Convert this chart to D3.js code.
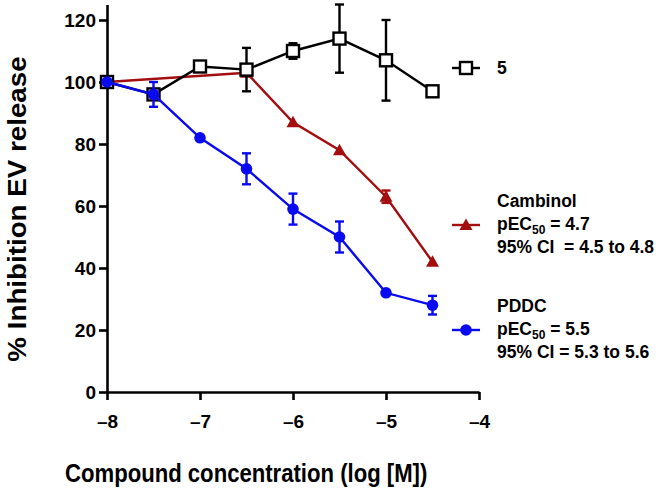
<!DOCTYPE html>
<html><head><meta charset="utf-8">
<script src="https://cdn.jsdelivr.net/npm/d3@7/dist/d3.min.js"></script>
<style>
html,body{margin:0;padding:0;background:#fff;}
svg{display:block;font-family:"Liberation Sans",Arial,Helvetica,sans-serif;font-weight:bold;}
</style></head>
<body>
<script>
const logConc = [-8, -7.5, -7, -6.5, -6, -5.5, -5, -4.5];
const cmp5Mean = [100, 96, 105, 104, 110, 114, 107, 97];
const cmp5Err  = [0, 0, 0, 7, 2.5, 11, 13, 0];
const cambX    = [-8, -6.5, -6, -5.5, -5, -4.5];
const cambMean = [100, 103, 87, 78, 63, 42];
const cambErr  = [0, 0, 0, 0, 2, 0];
const pddcMean = [100, 96, 82, 72, 59, 50, 32, 28];
const pddcErr  = [0, 4, 0, 5, 5, 5, 0, 3];
const xTicks = [-8, -7, -6, -5, -4];
const yTicks = [0, 20, 40, 60, 80, 100, 120];
const xTitle = "Compound concentration (log [M])";
const yTitle = "% Inhibition EV release";

const W = 661, H = 492;
const svg = d3.select("body").append("svg").attr("width", W).attr("height", H);
const x = d3.scaleLinear().domain([-8, -4]).range([107, 479]);
const y = d3.scaleLinear().domain([0, 125]).range([392, 4.5]);

const cBlack = "#000", cRed = "#a30d0d", cBlue = "#0a0af0";

// axes
const xAxis = svg.append("g").attr("transform", `translate(0,${y(0)})`)
  .call(d3.axisBottom(x).tickValues(xTicks).tickSize(8).tickSizeOuter(0)
    .tickFormat(d => String(d).replace("-", "\u2013")));
const yAxis = svg.append("g").attr("transform", `translate(${x(-8)},0)`)
  .call(d3.axisLeft(y).tickValues(yTicks).tickSize(8).tickSizeOuter(0));
[xAxis, yAxis].forEach(g => {
  g.select(".domain").attr("stroke", "#000").attr("stroke-width", 2.6);
  g.selectAll(".tick line").attr("stroke", "#000").attr("stroke-width", 2.6);
  g.selectAll(".tick text").attr("fill", "#000").attr("font-size", 19)
    .attr("font-family", "Liberation Sans, Arial, sans-serif").attr("font-weight", "bold");
});
xAxis.selectAll(".tick text").attr("dy", null).attr("y", 36);
yAxis.selectAll(".tick text").attr("x", -11).attr("dy", "0.36em");

// titles
svg.append("text").attr("transform", "translate(65,482) scale(0.885,1)").attr("font-size", 25)
  .attr("fill", "#000").text(xTitle);
svg.append("text").attr("transform", `translate(26,${209}) rotate(-90) scale(1.11,1)`)
  .attr("text-anchor", "middle").attr("font-size", 25).attr("fill", "#000").text(yTitle);

function drawSeries(xs, means, errs, color, shape) {
  const g = svg.append("g");
  const pts = xs.map((v, i) => ({x: v, m: means[i], e: errs[i]}));
  g.append("path").datum(pts)
    .attr("d", d3.line().x(d => x(d.x)).y(d => y(d.m)))
    .attr("fill", "none").attr("stroke", color).attr("stroke-width", 2.4);
  const eb = g.selectAll(".eb").data(pts.filter(d => d.e > 0)).enter().append("g");
  eb.append("line").attr("x1", d => x(d.x)).attr("x2", d => x(d.x))
    .attr("y1", d => y(d.m - d.e)).attr("y2", d => y(d.m + d.e))
    .attr("stroke", color).attr("stroke-width", 2.4);
  [1, -1].forEach(s => {
    eb.append("line").attr("x1", d => x(d.x) - 4.5).attr("x2", d => x(d.x) + 4.5)
      .attr("y1", d => y(d.m + s * d.e)).attr("y2", d => y(d.m + s * d.e))
      .attr("stroke", color).attr("stroke-width", 2.4);
  });
  drawMarkers(g, pts.map(d => [x(d.x), y(d.m)]), color, shape);
}
function drawMarkers(g, coords, color, shape) {
  coords.forEach(([cx, cy]) => {
    if (shape === "square") {
      g.append("rect").attr("x", cx - 6).attr("y", cy - 6).attr("width", 12).attr("height", 12)
        .attr("fill", "#fff").attr("stroke", color).attr("stroke-width", 2.4);
    } else if (shape === "triangle") {
      g.append("path").attr("d", `M${cx},${cy - 6.5}L${cx + 6.5},${cy + 5}L${cx - 6.5},${cy + 5}Z`)
        .attr("fill", color);
    } else {
      g.append("circle").attr("cx", cx).attr("cy", cy).attr("r", 5.8).attr("fill", color);
    }
  });
}

drawSeries(cambX, cambMean, cambErr, cRed, "triangle");
drawSeries(logConc, cmp5Mean, cmp5Err, cBlack, "square");
drawSeries(logConc, pddcMean, pddcErr, cBlue, "circle");

// legend
const legend = [
  {color: cBlack, shape: "square", my: 68, lines: [{t: "5", y: 74}]},
  {color: cRed, shape: "triangle", my: 225, lines: [{t: "Cambinol", y: 207}, {t: "pEC", sub: "50", rest: " = 4.7", y: 230}, {t: "95% CI  = 4.5 to 4.8", y: 253}]},
  {color: cBlue, shape: "circle", my: 330, lines: [{t: "PDDC", y: 312}, {t: "pEC", sub: "50", rest: " = 5.5", y: 335}, {t: "95% CI = 5.3 to 5.6", y: 358}]}
];
legend.forEach(l => {
  const g = svg.append("g");
  g.append("line").attr("x1", 452).attr("x2", 480).attr("y1", l.my).attr("y2", l.my)
    .attr("stroke", l.color).attr("stroke-width", 2.4);
  drawMarkers(g, [[466, l.my]], l.color, l.shape);
  l.lines.forEach(ln => {
    const t = g.append("text").attr("x", 497).attr("y", ln.y).attr("font-size", 17.5)
      .attr("fill", "#000").style("white-space", "pre");
    t.append("tspan").text(ln.t);
    if (ln.sub) {
      t.append("tspan").attr("font-size", 12).attr("dy", 4).text(ln.sub);
      t.append("tspan").attr("dy", -4).text(ln.rest);
    }
  });
});
</script>
</body></html>
